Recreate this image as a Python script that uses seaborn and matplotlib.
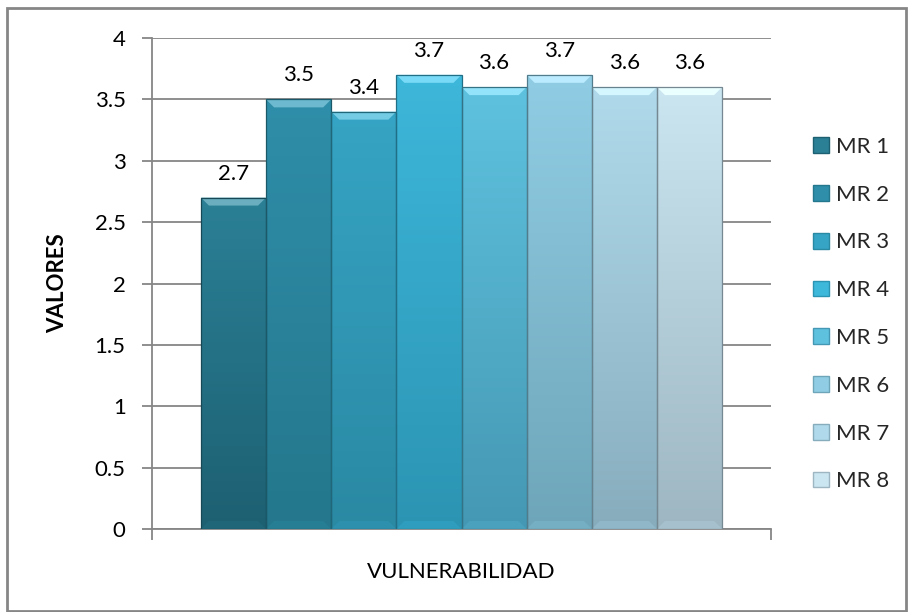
import numpy as np
import pandas as pd
import matplotlib
matplotlib.use("Agg")
import matplotlib.pyplot as plt
import matplotlib.colors as mcolors
from matplotlib.patches import Rectangle, Polygon
import seaborn as sns

# ---- data ----
series = ["MR 1", "MR 2", "MR 3", "MR 4", "MR 5", "MR 6", "MR 7", "MR 8"]
values = [2.7, 3.5, 3.4, 3.7, 3.6, 3.7, 3.6, 3.6]
category = ["VULNERABILIDAD"]
yticks = [0, 0.5, 1, 1.5, 2, 2.5, 3, 3.5, 4]
ytick_labels = ["0", "0.5", "1", "1.5", "2", "2.5", "3", "3.5", "4"]

top_colors = ["#2b8096", "#2f8ea9", "#36a4c4", "#3db7da", "#5ec2df", "#90cde4", "#b0daeb", "#cbe6f1"]
bot_colors = ["#1d6072", "#24778c", "#2a89a3", "#2c94b3", "#4598b3", "#6ea5b9", "#87adbd", "#9db6c1"]

sns.set_theme(style="white")
plt.rcParams["font.family"] = ["Lato", "DejaVu Sans"]
FS = 16

df = pd.DataFrame({"categoria": category * len(series), "serie": series, "valor": values})

W, H = 908, 612
fig = plt.figure(figsize=(W / 100, H / 100), dpi=100)
ax = fig.add_axes([152 / W, 1 - 529 / H, (771 - 152) / W, (529 - 38) / H])

sns.barplot(data=df, x="categoria", y="valor", hue="serie", palette=top_colors,
            width=0.842, saturation=1, legend=True, ax=ax, zorder=3)

ax.set_ylim(0, 4)
ax.set_xlim(-0.5, 0.5)

# pixel -> data unit helpers for bevel size
px_y = 4 / (529 - 38)
px_x = 1 / (771 - 152)

for cont, tc, bc in zip(ax.containers, top_colors, bot_colors):
    t = np.array(mcolors.to_rgb(tc))
    b = np.array(mcolors.to_rgb(bc))
    for patch in cont.patches:
        x0, y0 = patch.get_xy()
        w, h = patch.get_width(), patch.get_height()
        frac = np.linspace(0, 1, 300).reshape(-1, 1)
        arr = (b + (t - b) * frac).reshape(300, 1, 3)
        im = ax.imshow(arr, extent=[x0, x0 + w, y0, y0 + h], origin="lower",
                       aspect="auto", zorder=3.5, interpolation="bilinear")
        im.set_clip_path(patch)
        # top bevel
        bh, bd = 8 * px_y, 8 * px_x
        top = y0 + h
        ax.add_patch(Polygon([(x0, top), (x0 + w, top), (x0 + w - bd, top - bh), (x0 + bd, top - bh)],
                             closed=True, facecolor=mcolors.to_hex(np.clip(t * 0.8 + 0.28, 0, 1)),
                             edgecolor="none", zorder=3.55))
        # bottom bevel (subtle)
        ax.add_patch(Polygon([(x0, y0), (x0 + w, y0), (x0 + w - bd, y0 + bh), (x0 + bd, y0 + bh)],
                             closed=True, facecolor=mcolors.to_hex(np.clip(b * 1.06, 0, 1)),
                             edgecolor="none", zorder=3.55))
        patch.set_edgecolor(mcolors.to_hex(b * 0.75))
        patch.set_linewidth(0.9)
        patch.set_zorder(3.6)
        patch.set_facecolor("none")
    ax.bar_label(cont, labels=[f"{v:.1f}" for v in cont.datavalues], padding=10,
                 fontsize=FS, color="#000000", zorder=5)

ax.set_ylim(0, 4)
ax.set_xlim(-0.5, 0.5)
ax.set_aspect("auto")

# grid and spines
ax.set_yticks(yticks)
ax.set_yticklabels(ytick_labels, fontsize=FS)
ax.yaxis.grid(True, color="#868686", linewidth=1.3, zorder=0)
ax.set_axisbelow(True)
for s in ["top", "right"]:
    ax.spines[s].set_visible(False)
for s in ["left", "bottom"]:
    ax.spines[s].set_color("#868686")
    ax.spines[s].set_linewidth(1.3)
ax.tick_params(axis="y", which="major", left=True, length=7, width=1.3, color="#868686",
               direction="out", pad=12, labelcolor="#000000")
ax.set_xticks([0])
ax.set_xticklabels(category, fontsize=FS)
ax.set_xticks([-0.5, 0.5], minor=True)
ax.tick_params(axis="x", which="major", length=0, pad=24, labelcolor="#000000")
ax.tick_params(axis="x", which="minor", bottom=True, length=8, width=1.3, color="#868686",
               direction="out")
ax.set_xlabel("")
ax.set_ylabel("VALORES", fontsize=FS, fontweight="bold", labelpad=19, color="#000000")

# legend
ax.get_legend().remove()
leg_handles = [Rectangle((0, 0), 1, 1, facecolor=tc, edgecolor=bc, linewidth=1)
               for tc, bc in zip(top_colors, bot_colors)]
fig.legend(leg_handles, series, loc="upper left", bbox_to_anchor=(804 / W, 1 - 128 / H),
           frameon=False, fontsize=FS, handlelength=0.72, handleheight=0.72,
           handletextpad=0.32, labelspacing=1.25, borderaxespad=0)

# outer border
fig.patches.append(Rectangle((7 / W, 1 - 611 / H), (906 - 7) / W, (611 - 8) / H,
                             transform=fig.transFigure, fill=False,
                             edgecolor="#868686", linewidth=2))

fig.savefig("out.png", dpi=100)
